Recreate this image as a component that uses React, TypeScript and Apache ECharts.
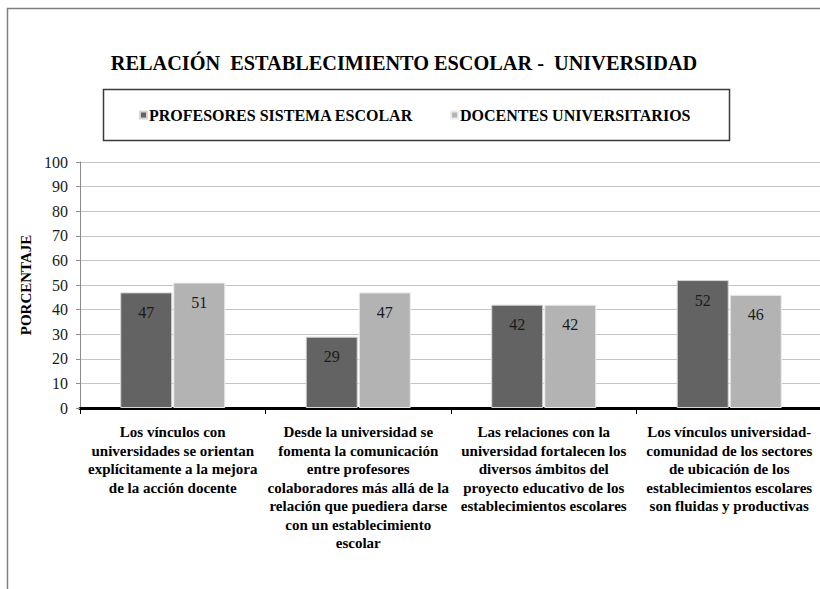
import React, { useEffect, useRef } from "react";
import * as echarts from "echarts";

const categories = [
  "Los vínculos con\nuniversidades se orientan\nexplícitamente a la mejora\nde la acción docente",
  "Desde la universidad se\nfomenta la comunicación\nentre profesores\ncolaboradores más allá de la\nrelación que puediera darse\ncon un establecimiento\nescolar",
  "Las relaciones con la\nuniversidad fortalecen los\ndiversos ámbitos del\nproyecto educativo de los\nestablecimientos escolares",
  "Los vínculos universidad-\ncomunidad de los sectores\nde ubicación de los\nestablecimientos escolares\nson fluidas y productivas",
];
const seriesNames = ["PROFESORES SISTEMA ESCOLAR", "DOCENTES UNIVERSITARIOS"];
const profesores = [47, 29, 42, 52];
const docentes = [51, 47, 42, 46];
const titleText = "RELACIÓN  ESTABLECIMIENTO ESCOLAR -  UNIVERSIDAD";
const yAxisName = "PORCENTAJE";

const FONT = "Liberation Serif";

export default function App() {
  const ref = useRef<HTMLDivElement>(null);
  useEffect(() => {
    if (!ref.current) return;
    const chart = echarts.init(ref.current, undefined, { renderer: "svg" });
    const labelCfg = {
      show: true,
      position: "insideTop",
      distance: 12,
      fontFamily: FONT,
      fontSize: 16,
      color: "#1a1a1a",
    };
    chart.setOption({
      animation: false,
      backgroundColor: "#ffffff",
      textStyle: { fontFamily: FONT },
      graphic: [
        {
          type: "rect",
          shape: { x: 7.5, y: 8.5, width: 900, height: 700 },
          style: { fill: "none", stroke: "#7f7f7f", lineWidth: 1.5 },
          silent: true,
        },
        {
          type: "text",
          x: 404,
          y: 63,
          style: {
            text: titleText,
            fontFamily: FONT,
            fontWeight: "bold",
            fontSize: 20.3,
            fill: "#000",
            align: "center",
            verticalAlign: "middle",
          },
        },
        {
          type: "rect",
          shape: { x: 103.5, y: 89.5, width: 626, height: 51 },
          style: { fill: "none", stroke: "#3a3a3a", lineWidth: 1.5 },
          silent: true,
        },
      ],
      legend: {
        left: 139,
        top: 107,
        padding: 0,
        itemWidth: 7,
        itemHeight: 7,
        itemGap: 37,
        icon: "rect",
        data: seriesNames,
        textStyle: {
          fontFamily: FONT,
          fontWeight: "bold",
          fontSize: 16,
          color: "#000",
          padding: [0, 0, 0, -3],
        },
      },
      grid: { left: 80, right: 18, top: 162, bottom: 181, containLabel: false },
      xAxis: {
        type: "category",
        data: categories,
        axisLine: { show: true, lineStyle: { color: "#000", width: 3 } },
        axisTick: { show: true, length: 6, lineStyle: { color: "#000", width: 1 } },
        axisLabel: {
          interval: 0,
          margin: 15,
          fontFamily: FONT,
          fontWeight: "bold",
          fontSize: 15,
          lineHeight: 18.5,
          color: "#000",
          align: "center",
        },
        splitLine: { show: false },
      },
      yAxis: {
        type: "value",
        min: 0,
        max: 100,
        interval: 10,
        name: yAxisName,
        nameLocation: "middle",
        nameRotate: 90,
        nameGap: 43,
        nameTextStyle: {
          fontFamily: FONT,
          fontWeight: "bold",
          fontSize: 15,
          color: "#000",
        },
        axisLine: { show: true, lineStyle: { color: "#8c8c8c", width: 1 } },
        axisTick: { show: true, length: 4, lineStyle: { color: "#8c8c8c" } },
        axisLabel: {
          margin: 12,
          fontFamily: FONT,
          fontSize: 16,
          color: "#1a1a1a",
        },
        splitLine: { show: true, lineStyle: { color: "#c4c4c4", width: 1 } },
      },
      series: [
        {
          name: seriesNames[0],
          type: "bar",
          data: profesores,
          barWidth: 52,
          barGap: "2%",
          itemStyle: { color: "#636363", borderColor: "#d6d6d6", borderWidth: 1 },
          label: labelCfg,
        },
        {
          name: seriesNames[1],
          type: "bar",
          data: docentes,
          barWidth: 52,
          barGap: "2%",
          itemStyle: { color: "#b3b3b3", borderColor: "#ececec", borderWidth: 1 },
          label: labelCfg,
        },
      ],
    });
    return () => chart.dispose();
  }, []);
  return (
    <div
      style={{
        position: "fixed",
        left: 0,
        top: 0,
        width: 820,
        height: 589,
        overflow: "hidden",
        background: "#fff",
      }}
    >
      <div ref={ref} style={{ width: 840, height: 589 }} />
    </div>
  );
}
